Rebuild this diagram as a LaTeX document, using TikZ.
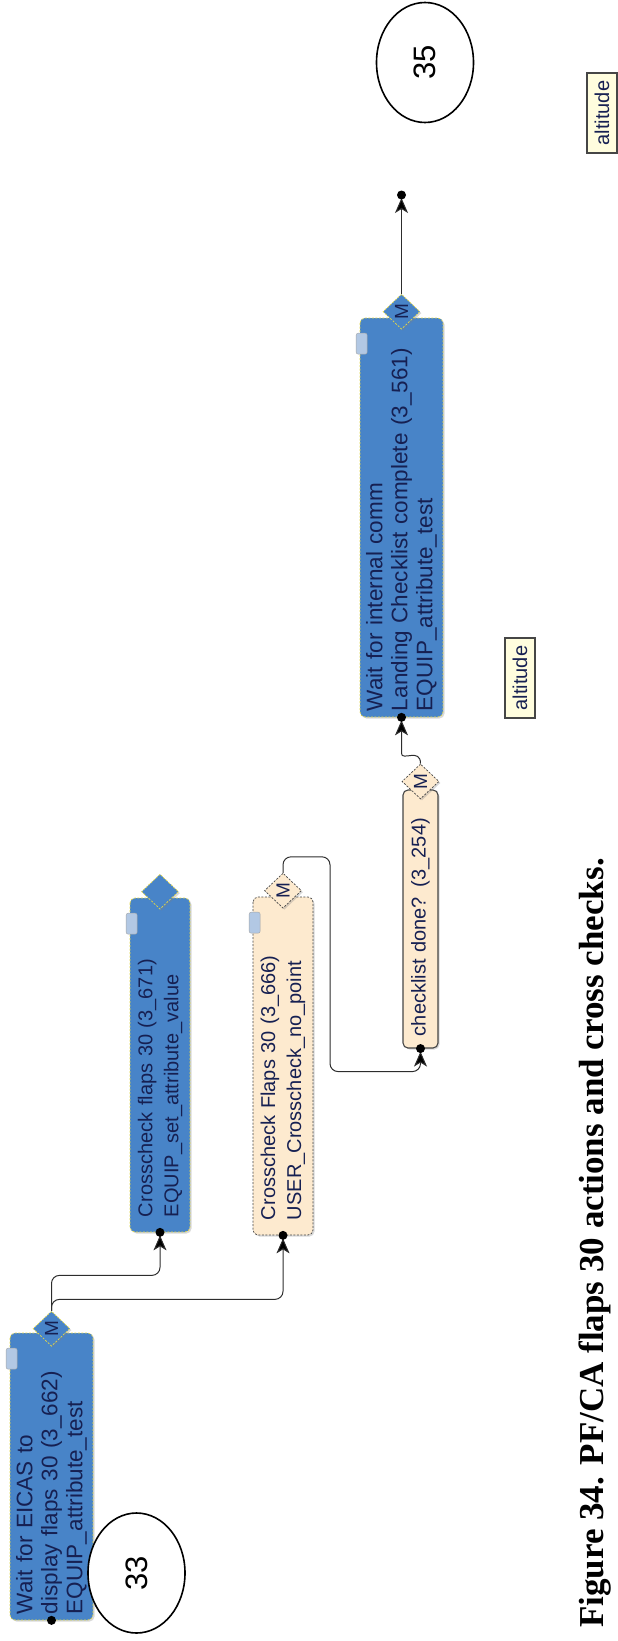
\documentclass[tikz,border=0pt]{standalone}
\usepackage{fontspec}
\setmainfont{Liberation Sans}
\newfontfamily\capfont{Liberation Serif}
\usetikzlibrary{positioning,arrows.meta,shapes.geometric,shadows}
\definecolor{TaskBlue}{RGB}{72,132,200}
\definecolor{TaskEdge}{RGB}{228,216,72}
\definecolor{TaskInk}{RGB}{22,32,82}
\definecolor{CheckPeach}{RGB}{253,234,207}
\definecolor{CheckEdge}{RGB}{70,70,70}
\definecolor{TagYellow}{RGB}{255,253,222}
\definecolor{IconBlue}{RGB}{178,200,228}
\definecolor{WireGrey}{RGB}{45,45,45}

\begin{document}
\begin{tikzpicture}[x=1pt,y=-1pt,
task/.style={rectangle,rounded corners=5pt,rotate=90,fill=TaskBlue,draw=TaskEdge,
  dash pattern=on 2pt off 1.5pt,line width=.7pt,text=TaskInk,align=left,
  font=\fontsize{22.5}{25}\selectfont,inner ysep=0pt,
  drop shadow={shadow xshift=1.5pt,shadow yshift=-1.5pt,opacity=.3}},
check/.style={task,fill=CheckPeach,draw=CheckEdge},
small/.style={font=\fontsize{20}{26}\selectfont},
gate/.style={diamond,rotate=90,minimum width=35pt,minimum height=37pt,inner sep=0pt,
  fill=TaskBlue,draw=TaskEdge,dash pattern=on 2pt off 1.5pt,line width=.7pt,
  text=TaskInk,font=\fontsize{19}{19}\selectfont,
  drop shadow={shadow xshift=1.5pt,shadow yshift=-1.5pt,opacity=.3}},
checkgate/.style={gate,fill=CheckPeach,draw=CheckEdge},
term/.style={ellipse,rotate=90,draw,line width=1.6pt,fill=white,minimum width=120pt,
  minimum height=97pt,inner sep=0pt,font=\fontsize{31}{31}\selectfont},
tag/.style={rectangle,rotate=90,fill=TagYellow,draw=CheckEdge,line width=1.2pt,
  minimum width=80pt,minimum height=30pt,inner sep=0pt,text=TaskInk,
  font=\fontsize{20}{24}\selectfont,drop shadow={shadow xshift=1pt,shadow yshift=-1pt,opacity=.3}},
linkicon/.style={rectangle,rounded corners=2pt,fill=IconBlue,draw=gray!70,
  minimum width=11pt,minimum height=21pt,inner sep=0pt},
wire/.style={draw=WireGrey,line width=1pt,rounded corners=8pt,
  -{Stealth[length=15pt,width=13pt,inset=4pt,fill=black]},shorten >=3pt},
pin/.style={circle,fill=black,inner sep=0pt,minimum size=9pt}
]
\useasboundingbox (0,0) rectangle (618,1641);

% task boxes (text runs bottom to top)
\node[task,minimum width=287pt,minimum height=83pt,inner xsep=6pt,text width=275pt] (b1) at (51.5,1476.5)
  {Wait for EICAS to\\display flaps 30 (3\_662)\\EQUIP\_attribute\_test};
\node[task,small,minimum width=334pt,minimum height=60pt,inner xsep=15pt,text width=304pt] (b2) at (160,1065)
  {Crosscheck flaps 30 (3\_671)\\EQUIP\_set\_attribute\_value};
\node[check,small,minimum width=338pt,minimum height=60pt,inner xsep=15pt,text width=308pt] (b3) at (283,1066)
  {Crosscheck Flaps 30 (3\_666)\\USER\_Crosscheck\_no\_point};
\node[check,small,dash pattern=,line width=1.1pt,minimum width=258pt,minimum height=35pt,inner xsep=12pt,text width=234pt] (b4) at (420.5,919)
  {checklist done? (3\_254)};
\node[task,minimum width=399pt,minimum height=83pt,inner xsep=6pt,text width=387pt] (b5) at (401.5,517.5)
  {Wait for internal comm\\Landing Checklist complete (3\_561)\\EQUIP\_attribute\_test};

% merge diamonds on top of each box
\node[gate] (d1) at ([yshift=4pt]b1.east) {M};
\node[gate] (d2) at ([yshift=6pt]b2.east) {};
\node[checkgate] (d3) at ([yshift=6pt]b3.east) {M};
\node[checkgate] (d4) at ([yshift=8pt]b4.east) {M};
\node[gate] (d5) at ([yshift=6pt]b5.east) {M};

% small link icons
\foreach \b in {b1,b2,b3,b5}
  \node[linkicon] (i\b) at ([shift={(2pt,-26pt)}]\b.north east) {};

% terminators
\node[term] (t33) at (136.5,1573) {33};
\node[term] (t35) at (425,62.5) {35};

% attribute tags
\node[tag] (alt1) at (602,113) {altitude};
\node[tag] (alt2) at (520,678) {altitude};

% connectors
\coordinate (out5) at (401.5,195);
\draw[wire] (d1.east) |- ([yshift=-43pt]b2.west) -- (b2.west);
\draw[wire] (d1.east) |- ([yshift=-64pt]b3.west) -- (b3.west);
\draw[wire] (d3.east) |- ++(47,-16) |- ([yshift=-23pt]b4.west) -- (b4.west);
\draw[wire] (d4.east) .. controls +(0,-16) and +(0,16) .. ([yshift=-28pt]b5.west) -- (b5.west);
\draw[wire] (d5.east) -- (out5);
\foreach \p in {b1.west,b2.west,b3.west,b4.west,b5.west,out5}
  \node[pin] at (\p) {};

% caption
\node[rotate=90,font=\capfont\bfseries\fontsize{35}{40}\selectfont] (cap) at (595,1243)
  {Figure 34. PF/CA flaps 30 actions and cross checks.};
\end{tikzpicture}
\end{document}
